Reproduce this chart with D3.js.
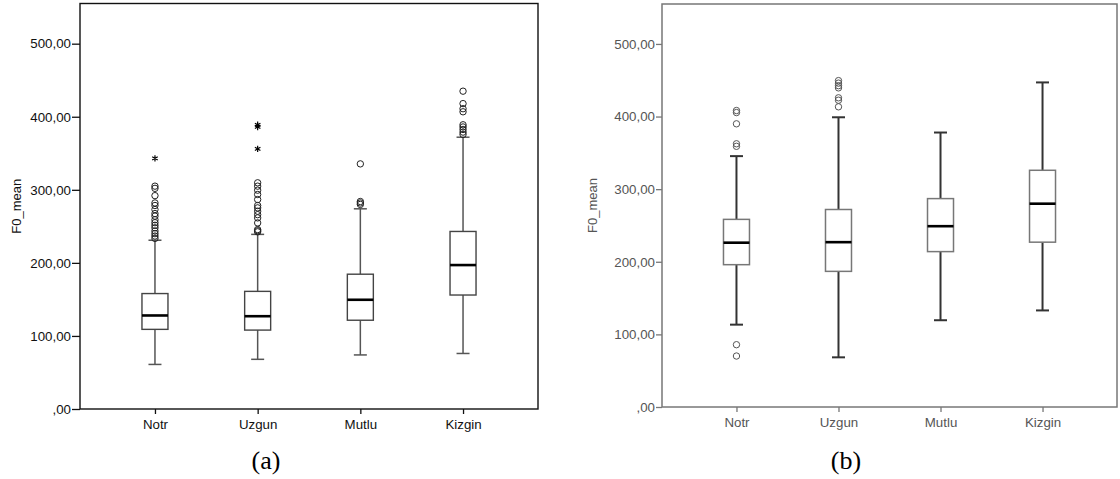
<!DOCTYPE html>
<html>
<head>
<meta charset="utf-8">
<script src="https://cdn.jsdelivr.net/npm/d3@7"></script>
<style>
  html, body { margin: 0; padding: 0; background: #fff; }
  svg { display: block; }
  .sans { font-family: "Liberation Sans", Arial, sans-serif; }
  .serif { font-family: "Liberation Serif", "Times New Roman", serif; }
</style>
</head>
<body>
<svg id="chart" width="1120" height="479"></svg>
<script>
// Emotion categories shared by both panels
const categories = ["Notr", "Uzgun", "Mutlu", "Kizgin"];
const yTicks = [0, 100, 200, 300, 400, 500];
const yLabel = "F0_mean";

// Panel (a) five-number summaries of F0_mean
const aMin    = [61, 68, 74, 76];
const aQ1     = [109, 108, 121.5, 156];
const aMedian = [128, 127, 149.5, 197];
const aQ3     = [158, 161, 184.5, 243];
const aMax    = [231, 239, 274, 372];
// Panel (a) outliers (circles) and extreme values (stars)
const aOutliers = [
  [233.5, 236.7, 240, 243.6, 248, 251.4, 255, 259, 264, 267.5, 273, 278.5, 282, 292, 302, 305],
  [242.5, 244, 245.6, 254.7, 261.6, 266, 270.7, 275.3, 278.5, 286.7, 293.6, 299.5, 305, 309.6],
  [280, 282, 284, 335.5],
  [375.8, 379, 382.6, 386, 389, 406.8, 411, 418, 435]
];
const aExtremes = [[343], [356, 386, 389], [], []];

// Panel (b) five-number summaries of F0_mean
const bMin    = [113.4, 68.4, 119.5, 133];
const bQ1     = [196, 186.8, 214, 227];
const bMedian = [226.3, 227, 249, 280];
const bQ3     = [258.4, 272, 287, 326];
const bMax    = [345.5, 399, 378, 447];
const bOutliers = [
  [70.2, 85.8, 359, 362.5, 390, 405.5, 408.3],
  [413.4, 422.5, 425.8, 439.5, 442.5, 446, 449.5],
  [],
  []
];
const bExtremes = [[], [], [], []];

const fmt = v => (v === 0 ? ",00" : v + ",00");

const svg = d3.select("#chart");

function panel(opts) {
  const g = svg.append("g");
  const x = d3.scalePoint().domain(categories).range([opts.left, opts.right]).padding(0.73);
  const y = d3.scaleLinear().domain([0, 555]).range([opts.bottom, opts.top]);

  const rows = categories.map((c, i) => ({
    cat: c, min: opts.min[i], q1: opts.q1[i], med: opts.median[i],
    q3: opts.q3[i], max: opts.max[i], out: opts.outliers[i], ext: opts.extremes[i]
  }));

  // Plot frame
  g.append("rect")
    .attr("x", opts.left).attr("y", opts.top)
    .attr("width", opts.right - opts.left).attr("height", opts.bottom - opts.top)
    .attr("fill", "none").attr("stroke", opts.frameColor).attr("stroke-width", opts.frameWidth);

  // Y axis
  const yAxis = g.append("g")
    .attr("transform", `translate(${opts.left},0)`)
    .call(d3.axisLeft(y).tickValues(yTicks).tickFormat(fmt).tickSize(opts.yTickSize).tickPadding(1));
  yAxis.attr("font-family", null).attr("font-size", null);
  yAxis.select(".domain").remove();
  yAxis.selectAll("line").attr("stroke", opts.frameColor).attr("stroke-width", 1.3);
  yAxis.selectAll("text")
    .attr("class", "sans")
    .attr("fill", opts.textColor)
    .style("font-size", "13.3px");

  // X axis
  const xAxis = g.append("g")
    .attr("transform", `translate(0,${opts.bottom})`)
    .call(d3.axisBottom(x).tickSize(5).tickPadding(6));
  xAxis.attr("font-family", null).attr("font-size", null);
  xAxis.select(".domain").remove();
  xAxis.selectAll("line").attr("stroke", opts.frameColor).attr("stroke-width", 1.3);
  xAxis.selectAll("text")
    .attr("class", "sans")
    .attr("fill", opts.textColor)
    .style("font-size", "13.3px");

  // Y axis title
  g.append("text")
    .attr("class", "sans")
    .attr("transform", `translate(${opts.labelX},${(opts.top + opts.bottom) / 2}) rotate(-90)`)
    .attr("text-anchor", "middle")
    .attr("fill", opts.textColor)
    .style("font-size", "13px")
    .text(yLabel);

  const boxW = 26, capW = 13;
  const box = g.selectAll("g.box").data(rows).join("g").attr("class", "box");

  // Whiskers
  box.append("line")
    .attr("x1", d => x(d.cat)).attr("x2", d => x(d.cat))
    .attr("y1", d => y(d.q3)).attr("y2", d => y(d.max))
    .attr("stroke", opts.whiskerColor).attr("stroke-width", opts.whiskerWidth);
  box.append("line")
    .attr("x1", d => x(d.cat)).attr("x2", d => x(d.cat))
    .attr("y1", d => y(d.q1)).attr("y2", d => y(d.min))
    .attr("stroke", opts.whiskerColor).attr("stroke-width", opts.whiskerWidth);
  // Whisker caps
  ["max", "min"].forEach(k => {
    box.append("line")
      .attr("x1", d => x(d.cat) - capW / 2).attr("x2", d => x(d.cat) + capW / 2)
      .attr("y1", d => y(d[k])).attr("y2", d => y(d[k]))
      .attr("stroke", opts.whiskerColor).attr("stroke-width", opts.capWidth);
  });

  // Interquartile box
  box.append("rect")
    .attr("x", d => x(d.cat) - boxW / 2).attr("width", boxW)
    .attr("y", d => y(d.q3)).attr("height", d => y(d.q1) - y(d.q3))
    .attr("fill", "#fff").attr("stroke", opts.boxColor).attr("stroke-width", opts.boxWidth);

  // Median
  box.append("line")
    .attr("x1", d => x(d.cat) - boxW / 2).attr("x2", d => x(d.cat) + boxW / 2)
    .attr("y1", d => y(d.med)).attr("y2", d => y(d.med))
    .attr("stroke", "#000").attr("stroke-width", 2.6);

  // Outliers
  box.selectAll("circle")
    .data(d => d.out.map(v => ({ cat: d.cat, v })))
    .join("circle")
    .attr("cx", d => x(d.cat)).attr("cy", d => y(d.v)).attr("r", 3.2)
    .attr("fill", "none").attr("stroke", opts.outlierColor).attr("stroke-width", 1);

  // Extreme values
  const star = d3.symbol(d3.symbolAsterisk, 28);
  box.selectAll("path.ext")
    .data(d => d.ext.map(v => ({ cat: d.cat, v })))
    .join("path").attr("class", "ext")
    .attr("transform", d => `translate(${x(d.cat)},${y(d.v)})`)
    .attr("d", star)
    .attr("fill", "none").attr("stroke", "#000").attr("stroke-width", 1.2);

  // Panel caption
  svg.append("text")
    .attr("class", "serif")
    .attr("x", opts.captionX).attr("y", 469)
    .attr("text-anchor", "middle")
    .style("font-size", "26px")
    .attr("fill", "#000")
    .text(opts.caption);
}

panel({
  left: 80, right: 538, top: 3.5, bottom: 409,
  min: aMin, q1: aQ1, median: aMedian, q3: aQ3, max: aMax,
  outliers: aOutliers, extremes: aExtremes,
  frameColor: "#111", frameWidth: 1.4, textColor: "#111",
  yTickSize: 8, labelX: 21,
  whiskerColor: "#555", whiskerWidth: 1.5, capWidth: 1.5,
  boxColor: "#444", boxWidth: 1.4, outlierColor: "#222",
  caption: "(a)", captionX: 266
});

panel({
  left: 662, right: 1117, top: 4, bottom: 407,
  min: bMin, q1: bQ1, median: bMedian, q3: bQ3, max: bMax,
  outliers: bOutliers, extremes: bExtremes,
  frameColor: "#777", frameWidth: 1.5, textColor: "#555",
  yTickSize: 6, labelX: 597,
  whiskerColor: "#333", whiskerWidth: 2, capWidth: 2,
  boxColor: "#777", boxWidth: 1.5, outlierColor: "#555",
  caption: "(b)", captionX: 846
});
</script>
</body>
</html>
